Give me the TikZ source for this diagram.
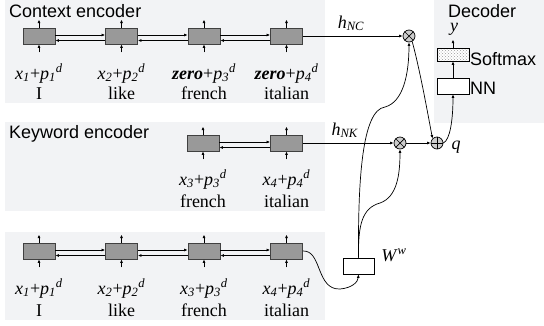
\documentclass[tikz,border=0pt]{standalone}
\usepackage{fontspec}
\setmainfont{Liberation Serif}
\setsansfont{Liberation Sans}
\usetikzlibrary{arrows.meta,patterns}
\newcommand\xpd[1]{\textit{x}\textsubscript{\textit{#1}}+\textit{p}\textsubscript{\textit{#1}}\textsuperscript{\textit{d}}}
\newcommand\zpd[1]{\textbf{\textit{zero}}+\textit{p}\textsubscript{\textit{#1}}\textsuperscript{\textit{d}}}
\definecolor{panelbg}{HTML}{F2F3F5}
\definecolor{boxgray}{HTML}{999999}
\definecolor{edgegray}{HTML}{404040}
\tikzset{
  panel/.style={fill=panelbg},
  enc/.style={draw=edgegray,fill=boxgray,line width=0.8pt,minimum width=32pt,minimum height=16pt,inner sep=0pt},
  wbox/.style={draw=black,fill=white,line width=0.7pt,minimum width=31pt,minimum height=16pt,inner sep=0pt},
  lbl/.style={font=\fontsize{18}{20}\selectfont,inner sep=0pt,anchor=base},
  ttl/.style={font=\sffamily\fontsize{18}{20}\selectfont,inner sep=0pt,anchor=base west},
  opc/.style={circle,draw=black,fill=gray!40,line width=0.7pt,minimum size=12pt,inner sep=0pt},
  arr/.style={line width=0.7pt,-{Latex[length=3.5pt,width=3pt]}},
  ln/.style={line width=0.7pt}
}
\begin{document}
\begin{tikzpicture}[x=1pt,y=-1pt]
\useasboundingbox (0,0) rectangle (544,325);
% panels
\fill[panel] (5,0) rectangle (325,103);
\fill[panel] (5,122) rectangle (325,211);
\fill[panel] (5,232) rectangle (325,320);
\fill[panel] (434,0) rectangle (544,123);
% titles
\node[ttl] (t1) at (9,17.5) {Context encoder};
\node[ttl] (t2) at (9,138) {Keyword encoder};
\node[ttl] (t3) at (448,17) {Decoder};
% row 1
\foreach \i/\x in {1/39,2/121.5,3/204,4/286.5}{
  \node[enc] (c\i) at (\x,36) {};
  \draw[arr] (c\i.north) -- ++(0,-8);
  \draw[arr] ([yshift=-8pt]c\i.south) -- (c\i.south);
}
\node[lbl] (c1x) at (39,79) {\xpd{1}};
\node[lbl] (c2x) at (121.5,79) {\xpd{2}};
\node[lbl] (c3x) at (204,79) {\zpd{3}};
\node[lbl] (c4x) at (286.5,79) {\zpd{4}};
\node[lbl] (c1w) at (39,99) {I};
\node[lbl] (c2w) at (121.5,99) {like};
\node[lbl] (c3w) at (204,99) {french};
\node[lbl] (c4w) at (286.5,99) {italian};
\foreach \a/\b in {1/2,2/3,3/4}{
  \draw[arr] ([yshift=1pt]c\a.east) -- ([yshift=1pt]c\b.west);
  \draw[arr] ([yshift=-4.5pt]c\b.west) -- ([yshift=-4.5pt]c\a.east);
}
% row 2
\node[enc] (k3) at (203,143) {};
\node[enc] (k4) at (286.5,143) {};
\foreach \n in {k3,k4}{
  \draw[arr] (\n.north) -- ++(0,-8);
  \draw[arr] ([yshift=-8pt]\n.south) -- (\n.south);
}
\draw[arr] ([yshift=1pt]k3.east) -- ([yshift=1pt]k4.west);
\draw[arr] ([yshift=-4.5pt]k4.west) -- ([yshift=-4.5pt]k3.east);
\node[lbl] (k3x) at (203,185) {\xpd{3}};
\node[lbl] (k4x) at (286.5,185) {\xpd{4}};
\node[lbl] (k3w) at (203,207) {french};
\node[lbl] (k4w) at (286.5,207) {italian};
% row 3
\foreach \i/\x in {1/39,2/121.5,3/204,4/286.5}{
  \node[enc] (r\i) at (\x,251) {};
  \draw[arr] (r\i.north) -- ++(0,-8);
  \draw[arr] ([yshift=-8pt]r\i.south) -- (r\i.south);
}
\foreach \a/\b in {1/2,2/3,3/4}{
  \draw[arr] ([yshift=1pt]r\a.east) -- ([yshift=1pt]r\b.west);
  \draw[arr] ([yshift=-4.5pt]r\b.west) -- ([yshift=-4.5pt]r\a.east);
}
\node[lbl] (r1x) at (39,294) {\xpd{1}};
\node[lbl] (r2x) at (121.5,294) {\xpd{2}};
\node[lbl] (r3x) at (204,294) {\xpd{3}};
\node[lbl] (r4x) at (286.5,294) {\xpd{4}};
\node[lbl] (r1w) at (39,316) {I};
\node[lbl] (r2w) at (121.5,316) {like};
\node[lbl] (r3w) at (204,316) {french};
\node[lbl] (r4w) at (286.5,316) {italian};
% W box
\node[wbox] (W) at (358.5,266) {};
\node[lbl] (Wl) at (394,261) {\textit{W}\textsuperscript{\textit{w}}};
% operators
\node[opc] (o1) at (409,36) {};
\draw[ln] (o1.45) -- (o1.225) (o1.135) -- (o1.315);
\node[opc] (o2) at (400,143) {};
\draw[ln] (o2.45) -- (o2.225) (o2.135) -- (o2.315);
\node[opc] (pl) at (437,143) {};
\draw[ln] (pl.north) -- (pl.south) (pl.east) -- (pl.west);
% labels
\node[lbl] (hnc) at (351,28) {\textit{h}\textsubscript{\textit{NC}}};
\node[lbl] (hnk) at (345,135) {\textit{h}\textsubscript{\textit{NK}}};
\node[lbl] (ql) at (456,149) {\textit{q}};
% decoder
\node[draw=black,line width=0.7pt,preaction={fill=white},pattern=crosshatch dots,pattern color=gray!80,minimum width=32pt,minimum height=13pt,inner sep=0pt] (sm) at (453,54.5) {};
\node[wbox,minimum width=32pt] (nn) at (453,86) {};
\node[ttl] (sml) at (470,65) {Softmax};
\node[ttl] (nnl) at (470,94) {NN};
\node[lbl] (yl) at (454,31) {\textit{y}};
\draw[arr] (sm.north) -- ++(0,-8);
\draw[arr] (nn.north) -- (sm.south);
% connections
\draw[arr] (c4.east) -- (o1.west);
\draw[arr] (k4.east) -- (o2.west);
\draw[arr] (o2.east) -- (pl.west);
\draw[arr] (o1.-60) .. controls (420,70) and (428,115) .. (pl.north west);
\draw[arr] (pl.east) .. controls (450,140) and (453,120) .. (nn.south);
\draw[arr] (r4.east) .. controls (322,250) and (316,290) .. (340,289) .. controls (352,288) and (358,282) .. (W.south);
\draw[arr] (W.north) .. controls (358,180) and (362,110) .. (385,107) .. controls (403,102) and (409,75) .. (o1.south);
\draw[arr] (W.north) .. controls (358,225) and (362,208) .. (380,203) .. controls (397,197) and (400,175) .. (o2.south);
\end{tikzpicture}
\end{document}
